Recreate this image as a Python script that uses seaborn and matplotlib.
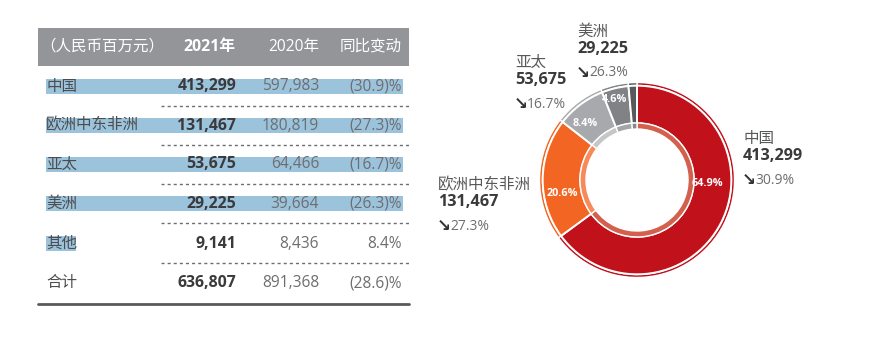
import matplotlib
matplotlib.use("Agg")
import matplotlib.pyplot as plt
from matplotlib.patches import Rectangle
import seaborn as sns

# ---------------- data ----------------
regions = ["中国", "欧洲中东非洲", "亚太", "美洲", "其他"]
rev_2021 = [413299, 131467, 53675, 29225, 9141]
rev_2020 = [597983, 180819, 64466, 39664, 8436]
yoy_text = ["(30.9)%", "(27.3)%", "(16.7)%", "(26.3)%", "8.4%"]
total_label = "合计"
total_2021 = 636807
total_2020 = 891368
total_yoy = "(28.6)%"
header = ["（人民币百万元）", "2021年", "2020年", "同比变动"]
highlight_full = [True, True, True, True, False]
donut_change = ["30.9%", "27.3%", "16.7%", "26.3%"]

sns.set_theme(style="white")
plt.rcParams["font.family"] = ["Open Sans", "Noto Sans CJK SC", "DejaVu Sans"]

main_colors = sns.color_palette(["#c1121c", "#f26522", "#a7a9ac", "#808285", "#58595b"])
inner_colors = sns.color_palette(["#d2604c", "#f68a5b", "#c5c6c8", "#a4a5a7", "#87888a"])

W, H = 871, 345
fig = plt.figure(figsize=(W / 100, H / 100), dpi=100)
fig.patch.set_facecolor("white")

# ---------------- table ----------------
ax = fig.add_axes([0, 0, 1, 1])
ax.set_xlim(0, W)
ax.set_ylim(H, 0)
ax.axis("off")

label_c = "#4d4d4f"
bold_c = "#3a3a3c"
num_c = "#6d6e71"
fs = 11.2
fsb = 11.4

ax.add_patch(Rectangle((38, 28), 371, 38, facecolor="#939598", edgecolor="none"))
hy = 47
ax.text(40, hy, header[0], color="white", fontsize=fs, va="center", ha="left")
ax.text(236, hy, header[1], color="white", fontsize=fsb, va="center", ha="right", fontweight="bold")
ax.text(319, hy, header[2], color="white", fontsize=fs, va="center", ha="right")
ax.text(402, hy, header[3], color="white", fontsize=fs, va="center", ha="right")

row_y = [86.5, 125.5, 164.5, 203.5, 243.5]
for i, name in enumerate(regions):
    y = row_y[i]
    if highlight_full[i]:
        ax.add_patch(Rectangle((46, y - 7.5), 357, 15, facecolor="#9cc3dc", edgecolor="none"))
    else:
        ax.add_patch(Rectangle((46, y - 7.5), 30, 15, facecolor="#9cc3dc", edgecolor="none"))
    ax.text(46, y, name, color=label_c, fontsize=fs, va="center", ha="left")
    ax.text(236, y, f"{rev_2021[i]:,}", color=bold_c, fontsize=fsb, va="center", ha="right",
            fontweight="bold")
    ax.text(319, y, f"{rev_2020[i]:,}", color=num_c, fontsize=fs, va="center", ha="right")
    ax.text(402, y, yoy_text[i], color=num_c, fontsize=fs, va="center", ha="right")
    ax.plot([161, 409], [y + 19.5, y + 19.5], color="#6d6e71", lw=1, ls=(0, (2.2, 2.2)))

ty = 283
ax.text(46, ty, total_label, color=label_c, fontsize=fs, va="center", ha="left")
ax.text(236, ty, f"{total_2021:,}", color=bold_c, fontsize=fsb, va="center", ha="right",
        fontweight="bold")
ax.text(319, ty, f"{total_2020:,}", color=num_c, fontsize=fs, va="center", ha="right")
ax.text(402, ty, total_yoy, color=num_c, fontsize=fs, va="center", ha="right")
ax.plot([38, 409], [304, 304], color="#58595b", lw=2)

# ---------------- donut ----------------
cx, cy = 637, 180
half = 110
dax = fig.add_axes([(cx - half) / W, (H - cy - half) / H, 2 * half / W, 2 * half / H])
dax.set_xlim(-half, half)
dax.set_ylim(-half, half)
dax.set_aspect("equal")
dax.axis("off")

common = dict(startangle=90, counterclock=False)
dax.pie(rev_2021, radius=97.5, colors=main_colors,
        wedgeprops=dict(width=3.0, edgecolor="white", linewidth=1.0), **common)
dax.pie(rev_2021, radius=94.3, colors=main_colors,
        wedgeprops=dict(width=37.5, edgecolor="white", linewidth=1.4), **common)
dax.pie(rev_2021, radius=57, colors=inner_colors,
        wedgeprops=dict(width=6, edgecolor="white", linewidth=1.0), **common)
dax.set_xlim(-half, half)
dax.set_ylim(-half, half)

total = sum(rev_2021)
pct_pos = [(707, 184), (562, 193), (585, 124), (615, 99)]
for i, (px, py) in enumerate(pct_pos):
    share = rev_2021[i] / total * 100
    dax.text(px - cx, cy - py, f"{share:.1f}%", color="white", fontsize=7.8,
             fontweight="bold", ha="center", va="center")

# ---------------- donut labels ----------------
lab_pos = [(743, 139), (438, 185), (515, 63), (577, 32)]
for i, (lx, ly) in enumerate(lab_pos):
    ax.text(lx, ly, regions[i], color="#58595b", fontsize=fs, va="center", ha="left")
    ax.text(lx, ly + 17, f"{rev_2021[i]:,}", color=bold_c, fontsize=fsb + 0.3,
            va="center", ha="left", fontweight="bold")
    ax.text(lx - 1, ly + 41, "↘", color="#333333", fontsize=12, va="center", ha="left",
            fontweight="bold", family="DejaVu Sans")
    ax.text(lx + 12, ly + 41, donut_change[i], color="#6d6e71", fontsize=10,
            va="center", ha="left")

fig.savefig("out.png", dpi=100, facecolor="white")
